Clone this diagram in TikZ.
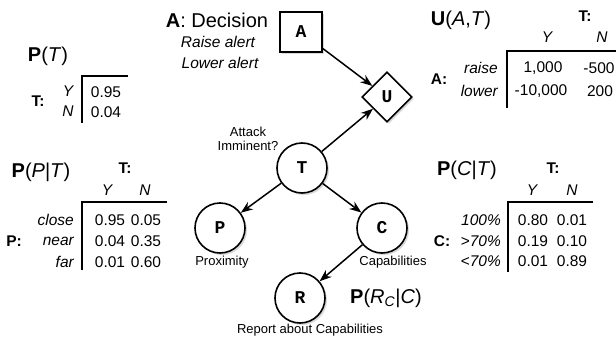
\documentclass[tikz,border=0pt]{standalone}
\usepackage{fontspec}
\setmainfont{Liberation Sans}
\newfontfamily\varfont{Liberation Mono}
\usetikzlibrary{shapes.geometric,arrows.meta,shadows}

\begin{document}
\begin{tikzpicture}[x=1pt,y=-1pt,
  shade/.style={drop shadow={shadow xshift=2pt,shadow yshift=-2pt,opacity=0.3}},
  varnode/.style={circle,draw,line width=1.6pt,minimum size=50pt,inner sep=0pt,
    fill=white,shade,font=\varfont\bfseries\fontsize{18}{20}\selectfont},
  decnode/.style={rectangle,draw,line width=1.6pt,minimum width=42pt,minimum height=40pt,
    fill=white,shade,font=\varfont\bfseries\fontsize{18}{20}\selectfont},
  utilnode/.style={diamond,draw,line width=1.6pt,minimum width=50pt,minimum height=50pt,
    inner sep=0pt,fill=white,shade,font=\varfont\bfseries\fontsize{18}{20}\selectfont},
  arr/.style={line width=1.5pt,-{Stealth[length=12pt,width=9pt]}},
  title/.style={font=\fontsize{20}{24}\selectfont,inner sep=0pt},
  cell/.style={font=\fontsize{15.5}{18}\selectfont,inner sep=0pt},
  hdr/.style={font=\fontsize{15.5}{18}\selectfont\itshape,inner sep=0pt},
  rowlab/.style={font=\fontsize{15.5}{18}\selectfont\itshape,inner sep=0pt,anchor=east},
  axis/.style={font=\fontsize{15.5}{18}\selectfont\bfseries,inner sep=0pt},
  note/.style={font=\fontsize{13}{15}\selectfont,inner sep=0pt,align=center},
  rule/.style={line width=1.6pt}
]
\useasboundingbox (0,0) rectangle (616,340);

% ---- network ----
\node[decnode] (A) at (301,32) {A};
\node[utilnode] (U) at (387,97) {U};
\node[varnode] (T) at (302,168) {T};
\node[varnode] (P) at (220,228) {P};
\node[varnode] (C) at (382,228) {C};
\node[varnode] (R) at (300,298) {R};

\draw[arr] (A) -- (U);
\draw[arr] (T) -- (U);
\draw[arr] (T) -- (P);
\draw[arr] (T) -- (C);
\draw[arr] (C) -- (R);

\node[note] (lt) at (248,139) {Attack\\[-1pt]Imminent?};
\node[note] (lp) at (222,262) {Proximity};
\node[note] (lc) at (393,262) {Capabilities};
\node[note] (lr) at (310,330) {Report about Capabilities};
\node[title] (prc) at (386,298) {\textbf{P}(\textit{R}\textsubscript{\textit{C}}|\textit{C})};

% ---- decision ----
\node[title] (dec) at (217,20) {\textbf{A}: Decision};
\node[hdr] (raise) at (218,42) {Raise alert};
\node[hdr] (lower) at (220,63) {Lower alert};

% ---- P(T) ----
\node[title] (pt) at (48,56) {\textbf{P}(\textit{T})};
\node[axis] (ptax) at (38,101) {T:};
\node[hdr] (pty) at (68,91) {Y};
\node[hdr] (ptn) at (68,111) {N};
\node[cell] (pt1) at (106,92) {0.95};
\node[cell] (pt2) at (106,112) {0.04};
\draw[rule] (128,76) -- (82,76) -- (82,123);

% ---- P(P|T) ----
\node[title] (ppt) at (41,172) {\textbf{P}(\textit{P}|\textit{T})};
\node[axis] (pptax) at (125,168) {T:};
\node[hdr] (ppty) at (107,190) {Y};
\node[hdr] (pptn) at (145,190) {N};
\draw[rule] (167,202) -- (82,202) -- (82,270);
\node[rowlab] (pr1) at (74,220) {close};
\node[rowlab] (pr2) at (74,241) {near};
\node[rowlab] (pr3) at (74,262) {far};
\node[axis] (ppax) at (14,241) {P:};
\node[cell] at (110,220) {0.95};
\node[cell] at (146,220) {0.05};
\node[cell] at (110,241) {0.04};
\node[cell] at (146,241) {0.35};
\node[cell] at (110,262) {0.01};
\node[cell] at (146,262) {0.60};

% ---- P(C|T) ----
\node[title] (pct) at (467,170) {\textbf{P}(\textit{C}|\textit{T})};
\node[axis] (pctax) at (553,168) {T:};
\node[hdr] (pcty) at (532,190) {Y};
\node[hdr] (pctn) at (572,190) {N};
\draw[rule] (593,202) -- (508,202) -- (508,272);
\node[rowlab] (cr1) at (501,220) {100\%};
\node[rowlab] (cr2) at (501,241) {>70\%};
\node[rowlab] (cr3) at (501,261) {<70\%};
\node[axis] (pcax) at (442,241) {C:};
\node[cell] at (533,220) {0.80};
\node[cell] at (572,220) {0.01};
\node[cell] at (533,241) {0.19};
\node[cell] at (572,241) {0.10};
\node[cell] at (533,261) {0.01};
\node[cell] at (572,261) {0.89};

% ---- U(A,T) ----
\node[title] (uat) at (461,20) {\textbf{U}(\textit{A},\textit{T})};
\node[axis] (uatax) at (585,16) {T:};
\node[hdr] (uaty) at (547,37) {Y};
\node[hdr] (uatn) at (602,37) {N};
\draw[rule] (616,51) -- (507,51) -- (507,108);
\node[rowlab] (ur1) at (498,68) {raise};
\node[rowlab] (ur2) at (498,91) {lower};
\node[axis] (uax) at (439,79) {A:};
\node[cell] at (543,68) {1,000};
\node[cell] at (599,68) {-500};
\node[cell] at (541,91) {-10,000};
\node[cell] at (600,91) {200};
\end{tikzpicture}
\end{document}
